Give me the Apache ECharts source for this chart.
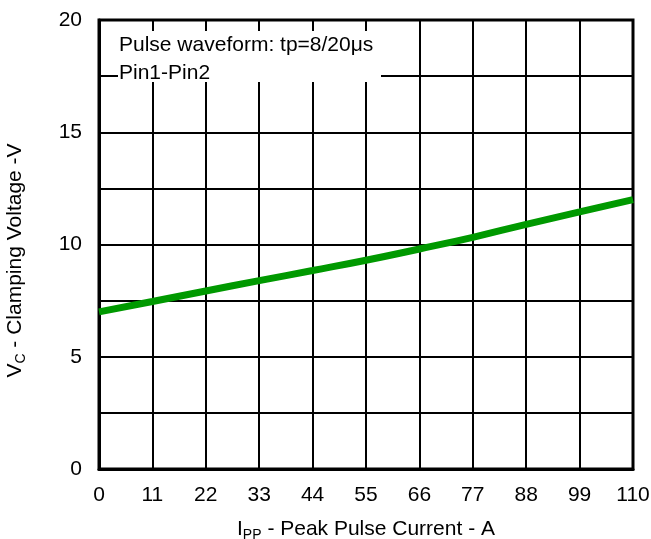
<!DOCTYPE html>
<html>
<head>
<meta charset="utf-8">
<script src="https://cdn.jsdelivr.net/npm/echarts@6/dist/echarts.min.js"></script>
<style>html,body{margin:0;padding:0;background:#fff}#c{width:651px;height:539px}</style>
</head>
<body>
<div id="c"></div>
<script>
const currents = [0, 11, 22, 33, 44, 55, 66, 77, 88, 99, 110];
const voltages = [7.0, 7.46, 7.93, 8.39, 8.84, 9.3, 9.8, 10.32, 10.9, 11.45, 12.0];
const noteLines = ['Pulse waveform: tp=8/20\u03bcs', 'Pin1-Pin2'];

const chart = echarts.init(document.getElementById('c'));
const font = 'Liberation Sans, Arial, sans-serif';
const FS = 21;
chart.setOption({
  animation: false,
  backgroundColor: '#fff',
  grid: { left: 99, right: 18, top: 20, bottom: 70, containLabel: false, outerBoundsMode: 'none', show: true, borderColor: '#000', borderWidth: 3, backgroundColor: 'transparent' },
  xAxis: {
    type: 'value', min: 0, max: 110, interval: 11,
    name: '{a|I}{s|PP}{a| - Peak Pulse Current - A}',
    nameLocation: 'middle', nameGap: 47,
    nameTextStyle: { rich: { a: { fontSize: FS, fontFamily: font, color: '#000' }, s: { fontSize: 14, fontFamily: font, color: '#000', verticalAlign: 'bottom', padding: [12, 0, 0, 0] } } },
    axisLine: { show: true, lineStyle: { color: '#000', width: 3 } },
    axisTick: { show: false },
    axisLabel: { fontSize: FS, fontFamily: font, color: '#000', margin: 16 },
    splitLine: { show: true, lineStyle: { color: '#000', width: 2 } }
  },
  yAxis: {
    type: 'value', min: 0, max: 20, interval: 2.5,
    name: '{a|V}{s|C}{a| - Clamping Voltage -V}',
    nameLocation: 'middle', nameGap: 71, nameRotate: 90,
    nameTextStyle: { padding: [0, 32, 0, 0], rich: { a: { fontSize: FS, fontFamily: font, color: '#000' }, s: { fontSize: 14, fontFamily: font, color: '#000', verticalAlign: 'bottom', padding: [12, 0, 0, 0] } } },
    axisLine: { show: true, lineStyle: { color: '#000', width: 3 } },
    axisTick: { show: false },
    axisLabel: { fontSize: FS, fontFamily: font, color: '#000', margin: 17,
      formatter: v => (v % 5 === 0 ? String(v) : '') },
    splitLine: { show: true, lineStyle: { color: '#000', width: 2 } }
  },
  graphic: [
    { type: 'rect', left: 118, top: 31, z: 50, shape: { width: 263, height: 51 }, style: { fill: '#fff' } },
    { type: 'text', left: 119, top: 31, z: 51, style: { text: noteLines.join('\n'), font: FS + 'px ' + font, fill: '#000', lineHeight: 28 } }
  ],
  series: [{
    type: 'line', smooth: true, symbol: 'none',
    data: currents.map((c, i) => [c, voltages[i]]),
    lineStyle: { color: '#009900', width: 7 }
  }]
});
</script>
</body>
</html>
